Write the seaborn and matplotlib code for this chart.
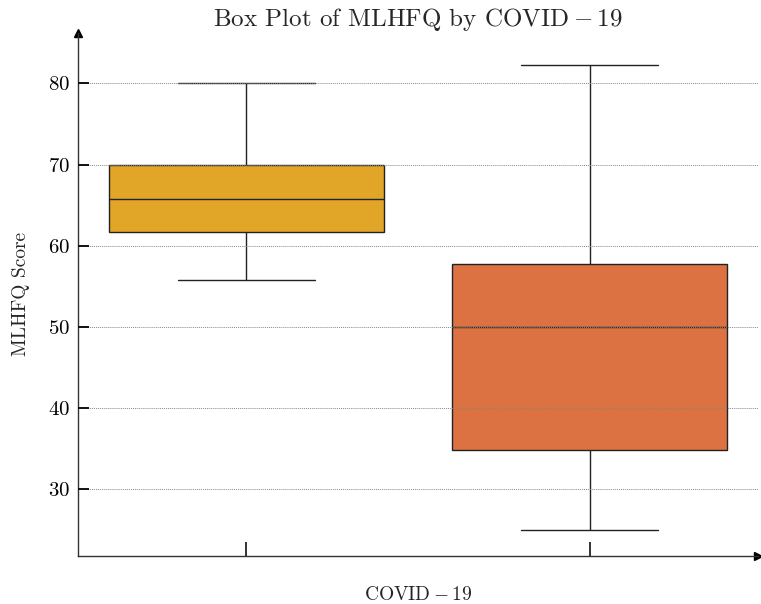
import matplotlib
matplotlib.use("Agg")
import matplotlib.pyplot as plt
import seaborn as sns
import pandas as pd

# Data (five-number summaries, used as raw values)
categories = ["0", "1"]
group0_values = [55.8, 61.7, 65.8, 70.0, 80.0]
group1_values = [25.0, 34.9, 50.0, 57.8, 82.3]
box_colors = ["#E1A528", "#DC7241"]
y_ticks = [30, 40, 50, 60, 70, 80]

sns.set_style("white")
plt.rcParams["font.family"] = ["cmr10", "DejaVu Serif"]
plt.rcParams["mathtext.fontset"] = "cm"
plt.rcParams["axes.formatter.use_mathtext"] = True
plt.rcParams["xtick.bottom"] = True
plt.rcParams["ytick.left"] = True
plt.rcParams["xtick.direction"] = "in"
plt.rcParams["ytick.direction"] = "in"
plt.rcParams["xtick.major.size"] = 10
plt.rcParams["ytick.major.size"] = 8
plt.rcParams["xtick.major.width"] = 1.2
plt.rcParams["ytick.major.width"] = 1.4

df = pd.DataFrame({
    "COVID": [categories[0]] * len(group0_values) + [categories[1]] * len(group1_values),
    "MLHFQ": group0_values + group1_values,
})

fig = plt.figure(figsize=(7.61, 6.04), dpi=100)
ax = fig.add_axes([78 / 761, 48 / 604, (758 - 78) / 761, (556 - 33) / 604])

sns.boxplot(data=df, x="COVID", y="MLHFQ", hue="COVID", palette=box_colors,
            order=categories, width=0.8, legend=False, ax=ax, saturation=1,
            linecolor="#222222", linewidth=1.0, showfliers=False,
            whis=1.5)

ax.set_xlim(-0.49, 1.49)
ax.set_ylim(21.8, 86.2)
ax.set_yticks(y_ticks)
ax.set_xticks([0, 1])
ax.set_xticklabels([])
ax.tick_params(axis="both", which="major", color="#111111", labelsize=15,
               labelcolor="black", bottom=True, left=True)
ax.tick_params(axis="y", pad=6)
ax.yaxis.grid(True, linestyle=(0, (1, 1)), linewidth=0.7, color="#888888")
ax.set_axisbelow(False)

for s in ["top", "right"]:
    ax.spines[s].set_visible(False)
for s in ["left", "bottom"]:
    ax.spines[s].set_color("#333333")
    ax.spines[s].set_linewidth(1.0)

ax.plot(1, 0, marker=">", color="black", markersize=6, transform=ax.transAxes, clip_on=False)
ax.plot(0, 1, marker="^", color="black", markersize=6, transform=ax.transAxes, clip_on=False)

ax.set_xlabel(r"$\mathrm{COVID-19}$", fontsize=14, labelpad=18)
ax.set_ylabel("MLHFQ Score", fontsize=14, labelpad=13)
ax.set_title(r"Box Plot of MLHFQ by $\mathrm{COVID-19}$", fontsize=18, pad=4)

fig.savefig("out.png", dpi=100)
